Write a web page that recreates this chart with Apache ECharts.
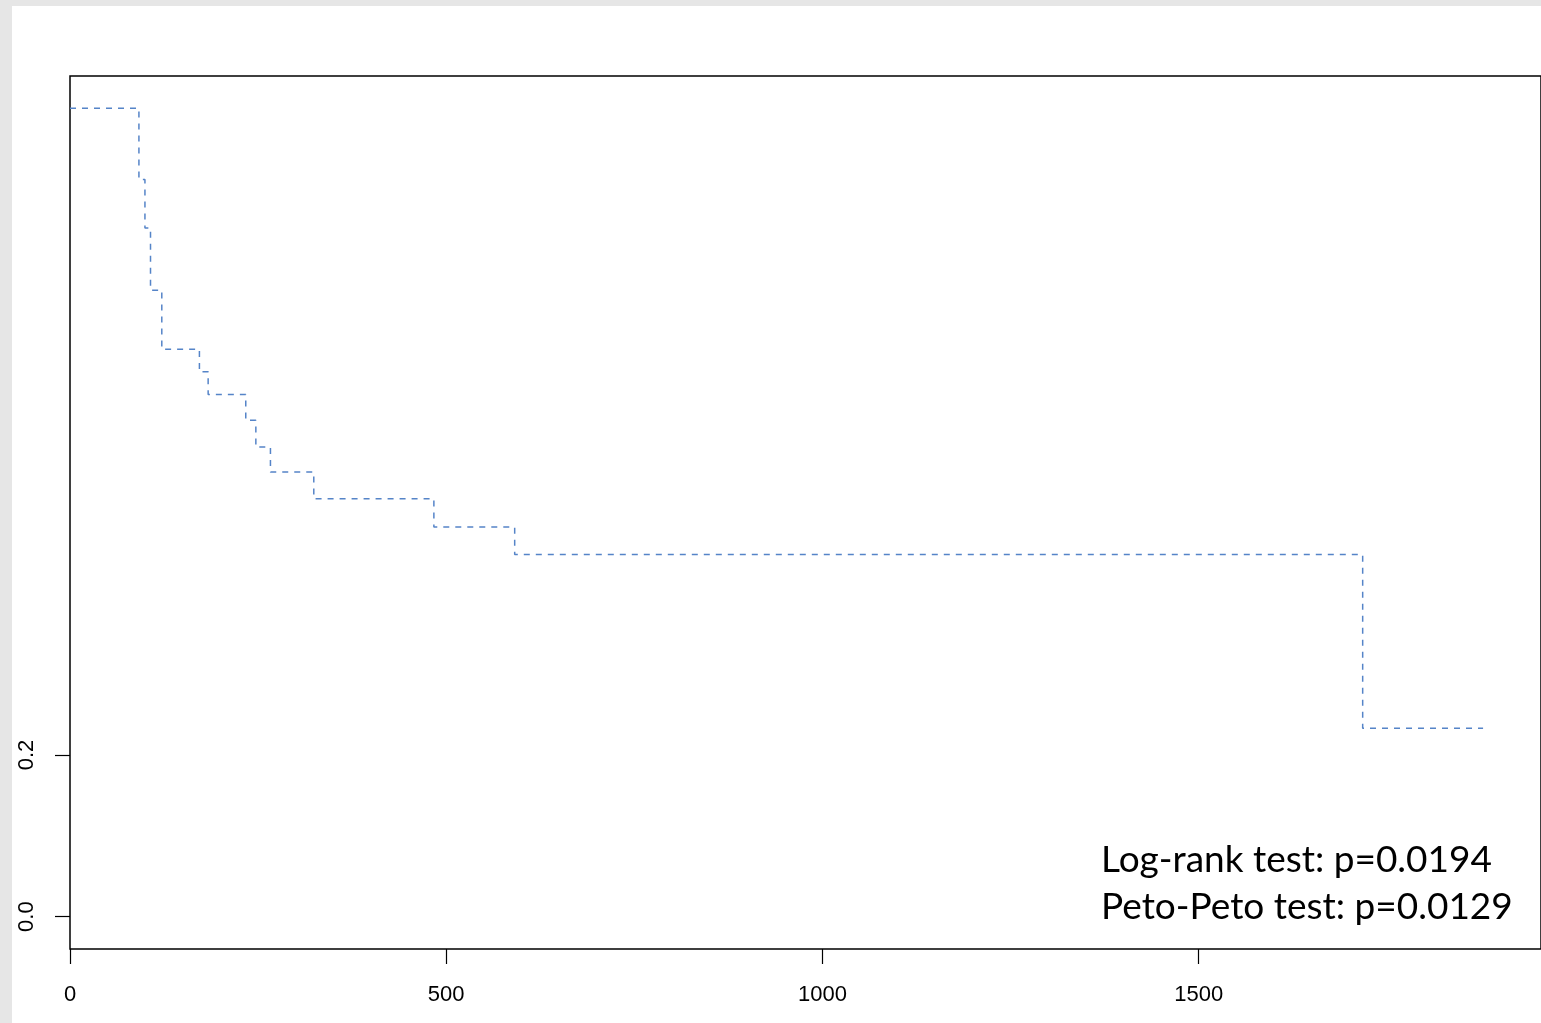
<!DOCTYPE html>
<html>
<head>
<meta charset="utf-8">
<script src="https://cdn.jsdelivr.net/npm/echarts@6/dist/echarts.min.js"></script>
<style>
  html, body { margin: 0; padding: 0; background: #e6e6e6; }
  #chart { position: absolute; left: 12px; top: 6px; width: 1529px; height: 1017px; background: #fff; }
</style>
</head>
<body>
<div id="chart"></div>
<script>
// survival curve
var times = [0, 91.6, 99.6, 107, 122, 172, 183.6, 233.6, 247, 266.4, 324, 483.6, 591, 1718, 1878];
var surv = [1, 0.912, 0.852, 0.775, 0.702, 0.674, 0.646, 0.614, 0.581, 0.55, 0.517, 0.482, 0.448, 0.233, 0.233];
var xTicks = [0, 500, 1000, 1500];
var yTicks = [0, 0.2];
var testLines = ["Log-rank test: p=0.0194", "Peto-Peto test: p=0.0129"];

var chart = echarts.init(document.getElementById("chart"));
var points = times.map(function (t, i) { return [t, surv[i]]; });

var option = {
  animation: false,
  grid: {
    left: 58,
    top: 70,
    width: 1473,
    height: 873,
    show: true,
    borderColor: "#000",
    borderWidth: 1.5,
    backgroundColor: "transparent"
  },
  xAxis: {
    type: "value",
    min: 0,
    max: 1955,
    splitLine: { show: false },
    axisLine: { show: false, onZero: false },
    axisTick: { show: true, length: 15, lineStyle: { color: "#000", width: 1.2 }, customValues: xTicks },
    axisLabel: {
      customValues: xTicks,
      margin: 35,
      color: "#000",
      fontFamily: "Liberation Sans",
      fontSize: 22,
      formatter: function (v) { return String(v); }
    }
  },
  yAxis: {
    type: "value",
    min: -0.04,
    max: 1.04,
    splitLine: { show: false },
    axisLine: { show: false, onZero: false },
    axisTick: { show: true, length: 15, lineStyle: { color: "#000", width: 1.2 }, customValues: yTicks },
    axisLabel: {
      customValues: yTicks,
      rotate: 90,
      margin: 32,
      color: "#000",
      fontFamily: "Liberation Sans",
      fontSize: 22,
      formatter: function (v) { return v.toFixed(1); }
    }
  },
  series: [
    {
      type: "line",
      step: "end",
      data: points,
      showSymbol: false,
      lineStyle: { color: "#5584c8", width: 1.5, type: [6, 6] }
    }
  ],
  graphic: [
    {
      type: "text",
      left: 1089,
      top: 831,
      style: {
        text: testLines.join("\n"),
        font: "37px Lato",
        lineHeight: 47,
        fill: "#000"
      }
    }
  ]
};
chart.setOption(option);
</script>
</body>
</html>
